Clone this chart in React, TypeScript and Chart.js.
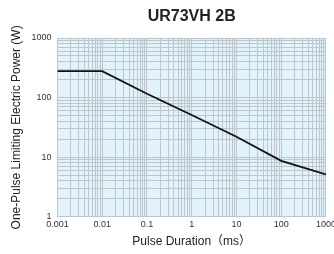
import React, { useEffect, useRef } from "react";
import { Chart, registerables } from "chart.js";

Chart.register(...registerables);

const titleText = "UR73VH 2B";
const xTitle = "Pulse Duration（ms）";
const yTitle = "One-Pulse Limiting Electric Power (W)";
const durations = [0.001, 0.01, 0.1, 1, 10, 100, 1000];
const powers = [278, 278, 116, 51, 22, 8.7, 5.15];
const xDecades = [0.001, 0.01, 0.1, 1, 10, 100, 1000];
const yDecades = [1, 10, 100, 1000];
const xLabels = ["0.001", "0.01", "0.1", "1", "10", "100", "1000"];
const yLabels = ["1", "10", "100", "1000"];

function gridValues(decades: number[]): number[] {
  const out: number[] = [];
  for (let i = 0; i < decades.length - 1; i++) {
    for (let m = 1; m < 10; m++) out.push(+(decades[i] * m).toPrecision(6));
  }
  out.push(decades[decades.length - 1]);
  return out;
}

const FONT = "Liberation Sans, Arial, sans-serif";

export default function App() {
  const ref = useRef<HTMLCanvasElement>(null);
  useEffect(() => {
    document.body.style.margin = "0";
    const ctx = ref.current!;
    const bgPlugin = {
      id: "plotbg",
      beforeDraw(chart: any) {
        const { ctx, chartArea } = chart;
        ctx.save();
        ctx.fillStyle = "#e1f2fa";
        ctx.fillRect(chartArea.left, chartArea.top, chartArea.right - chartArea.left, chartArea.bottom - chartArea.top);
        ctx.restore();
      },
      afterDraw(chart: any) {
        const { ctx, chartArea } = chart;
        ctx.save();
        ctx.fillStyle = "#222";
        ctx.font = "bold 16px " + FONT;
        ctx.textAlign = "center";
        ctx.textBaseline = "middle";
        ctx.fillText(titleText, (chartArea.left + chartArea.right) / 2, 17);
        ctx.restore();
      },
    };
    const xVals = gridValues(xDecades);
    const yVals = gridValues(yDecades);
    const chart = new Chart(ctx, {
      type: "line",
      data: {
        datasets: [
          {
            data: durations.map((d, i) => ({ x: d, y: powers[i] })),
            borderColor: "#111",
            borderWidth: 1.8,
            pointRadius: 0,
            tension: 0,
          },
        ],
      },
      options: {
        animation: false,
        responsive: false,
        devicePixelRatio: 1,
        layout: { padding: { left: 9, right: 0, top: 38, bottom: 5 } },
        plugins: {
          legend: { display: false },
          tooltip: { enabled: false },
          title: { display: false },
        },
        scales: {
          x: {
            type: "logarithmic",
            min: 0.001,
            max: 1000,
            afterBuildTicks(scale: any) {
              scale.ticks = xVals.map((v) => ({ value: v }));
            },
            ticks: {
              autoSkip: false,
              maxRotation: 0,
              padding: 2,
              color: "#333",
              font: { family: FONT, size: 9 },
              callback: (v: any) => {
                const i = xDecades.findIndex((d) => Math.abs(d - v) / d < 1e-6);
                return i >= 0 ? xLabels[i] : "";
              },
            },
            grid: { color: "#bcc6cc", lineWidth: 1, drawTicks: false },
            border: { color: "#bcc6cc" },
            title: {
              display: true,
              text: xTitle,
              color: "#222",
              font: { family: FONT + ", Noto Sans CJK JP", size: 12 },
              padding: { top: 3, bottom: 0 },
            },
          },
          y: {
            type: "logarithmic",
            min: 1,
            max: 1000,
            afterBuildTicks(scale: any) {
              scale.ticks = yVals.map((v) => ({ value: v }));
            },
            ticks: {
              autoSkip: false,
              padding: 6,
              color: "#333",
              font: { family: FONT, size: 9 },
              callback: (v: any) => {
                const i = yDecades.findIndex((d) => Math.abs(d - v) / d < 1e-6);
                return i >= 0 ? yLabels[i] : "";
              },
            },
            grid: { color: "#bcc6cc", lineWidth: 1, drawTicks: false },
            border: { color: "#bcc6cc" },
            title: {
              display: true,
              text: yTitle,
              color: "#222",
              font: { family: FONT, size: 12 },
              padding: { top: 0, bottom: 2 },
            },
          },
        },
      },
      plugins: [bgPlugin],
    } as any);
    return () => chart.destroy();
  }, []);
  return (
    <div style={{ position: "fixed", left: 0, top: 0, width: 334, height: 254, overflow: "hidden", background: "#fff" }}>
      <canvas ref={ref} width={338} height={254} style={{ width: 338, height: 254, display: "block" }} />
    </div>
  );
}
